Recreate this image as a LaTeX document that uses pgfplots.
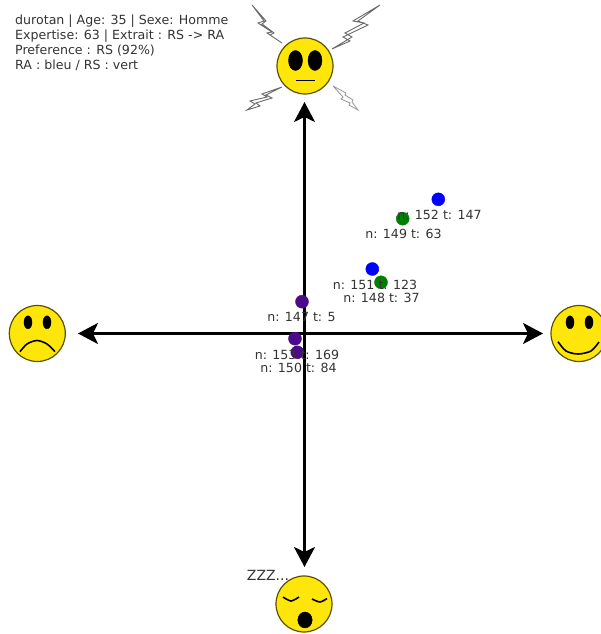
\documentclass[border=0pt]{standalone}
\usepackage{fontspec}
\setmainfont{DejaVu Sans}
\usepackage{pgfplots}
\pgfplotsset{compat=1.18}
\usetikzlibrary{arrows.meta}
\definecolor{smiley}{HTML}{FFE60A}
\definecolor{rim}{HTML}{5A5200}
\definecolor{ink}{HTML}{333333}
\definecolor{bolt}{HTML}{6A6A6A}
\definecolor{mixed}{HTML}{4B0A8A}
\tikzset{lab/.style={text=ink, font=\fontsize{12.6pt}{15pt}\selectfont}}
\begin{document}
\begin{tikzpicture}
\begin{axis}[
  scale only axis,
  width=600pt,
  height=634pt,
  xmin=0, xmax=600,
  ymin=0, ymax=634,
  y dir=reverse,
  hide axis,
  clip mode=global,
  set layers=standard,
]
% bolts round the top face
\addplot[bolt, line width=0.9pt] coordinates {(380,5) (353,21) (364,23) (345,33) (352,37) (332,49) (350,41) (343,37) (368,25) (358,21) (380,5)};
\addplot[bolt, line width=0.9pt] coordinates {(252,5) (264,21) (258,23) (272,32) (267,33) (282,43) (270,35) (274,33) (262,24) (266,21) (252,5)};
\addplot[bolt, line width=0.9pt] coordinates {(282,87) (262,94) (267,97) (250,101) (255,104) (247,110) (260,106) (256,103) (272,98) (266,95) (282,87)};
\addplot[bolt!70, line width=0.8pt] coordinates {(333,86) (343,97) (341,99) (350,103) (349,105) (358,110) (352,102) (353,100) (345,95) (346,93) (333,86)};
% faces
\addplot[only marks, mark=*, mark size=28pt, mark options={fill=smiley, draw=rim, line width=1.2pt}] coordinates {(305,66) (37.3,333.5) (579,333.5) (304,604)};
% eyes
\addplot[only marks, mark=*, mark size=10pt, mark options={xscale=0.7, fill=black, draw=black}] coordinates {(295.5,60.5) (315,60.5)};
\addplot[only marks, mark=*, mark size=6.5pt, mark options={xscale=0.62, fill=black, draw=black}] coordinates {(28,322.3) (47,322.3) (570,322.3) (589,322.3)};
% mouths, above the marks
\addplot[on layer=axis foreground, black, line width=1.6pt] coordinates {(296,80.5) (315,80.5)};
\addplot[on layer=axis foreground, black, line width=1.6pt, smooth] coordinates {(20,351.7) (27,344) (37,340.5) (47,344) (55,351.7)};
\addplot[on layer=axis foreground, black, line width=1.6pt, smooth] coordinates {(558,341.7) (566,351) (578,354) (591,351) (599,342)};
% sleeping face
\addplot[on layer=axis foreground, black, line width=1.6pt, smooth] coordinates {(283,597) (291,601) (299,597)};
\addplot[on layer=axis foreground, black, line width=1.6pt, smooth] coordinates {(312,599) (320,602) (327,598.5)};
\addplot[only marks, mark=*, mark size=8pt, mark options={xscale=0.9, fill=black, draw=black}] coordinates {(305,620)};
% cross
\addplot[black, line width=2.4pt, {Stealth[length=20pt,width=21pt,inset=5pt]}-{Stealth[length=20pt,width=21pt,inset=5pt]}] coordinates {(78,333.5) (543,333.5)};
\addplot[black, line width=2.4pt, {Stealth[length=20pt,width=21pt,inset=5pt]}-{Stealth[length=20pt,width=21pt,inset=5pt]}] coordinates {(304.5,102) (304.5,567)};
% points
\addplot[only marks, mark=*, mark size=6.5pt, mark options={fill=blue, draw=blue}] coordinates {(438.3,199.3) (372.3,269)};
\addplot[only marks, mark=*, mark size=6.5pt, mark options={fill=green!50!black, draw=green!50!black}] coordinates {(402.7,218.7) (381,282.3)};
\addplot[only marks, mark=*, mark size=6.5pt, mark options={fill=mixed, draw=mixed}] coordinates {(302,301.7) (295,338.7) (297.3,352.3)};
\begin{pgfonlayer}{axis foreground}
\node[lab] at (axis cs:439.5,215) {n: 152 t: 147};
\node[lab] at (axis cs:403.5,234) {n: 149 t: 63};
\node[lab] at (axis cs:375,285) {n: 151 t: 123};
\node[lab] at (axis cs:381.5,298) {n: 148 t: 37};
\node[lab] at (axis cs:301.5,317.5) {n: 147 t: 5};
\node[lab] at (axis cs:297,355) {n: 153 t: 169};
\node[lab] at (axis cs:298.5,368) {n: 150 t: 84};
\end{pgfonlayer}
\node[text=ink, font=\fontsize{14pt}{16pt}\selectfont] at (axis cs:268,575) {ZZZ...};
\node[lab, anchor=north west, inner sep=0pt, align=left] at (axis cs:15,14.5) {durotan | Age: 35 | Sexe: Homme\\Expertise: 63 | Extrait : RS -> RA\\Preference : RS (92\%)\\RA : bleu / RS : vert};
\end{axis}
\pgfresetboundingbox
\path[use as bounding box] (current axis.south west) rectangle (current axis.north east);
\end{tikzpicture}
\end{document}
